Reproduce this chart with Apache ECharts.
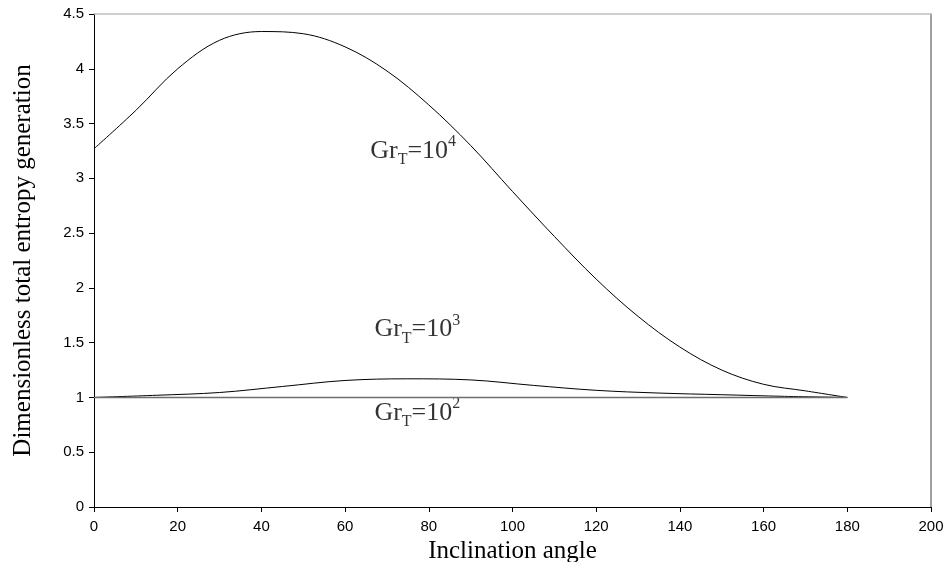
<!DOCTYPE html>
<html>
<head>
<meta charset="utf-8">
<script src="https://cdn.jsdelivr.net/npm/echarts@6/dist/echarts.min.js"></script>
<style>
  html, body { margin: 0; padding: 0; background: #fff; }
  #chart { width: 943px; height: 562px; }
</style>
</head>
<body>
<div id="chart"></div>
<script>
// values
var angles4 = [0, 10, 20, 30, 40, 50, 60, 70, 80, 90, 100, 110, 120, 130, 140, 150, 160, 170, 180];
var gr4 = [3.27, 3.62, 4.00, 4.26, 4.34, 4.32, 4.20, 3.98, 3.67, 3.30, 2.88, 2.47, 2.08, 1.74, 1.46, 1.25, 1.12, 1.06, 1.00];

var angles3 = [0, 15, 30, 45, 60, 75, 90, 105, 120, 135, 150, 165, 180];
var gr3 = [1.00, 1.02, 1.045, 1.10, 1.155, 1.17, 1.16, 1.11, 1.065, 1.04, 1.025, 1.01, 1.00];

var angles2 = [0, 180];
var gr2 = [1.00, 1.00];

// curve labels: x, y, exponent
var labelX = [66, 67, 67];
var labelY = [3.25, 1.62, 0.86];
var labelExp = ['4', '3', '2'];

var xTicks = { min: 0, max: 200, interval: 20 };
var yTicks = { min: 0, max: 4.5, interval: 0.5 };

function pairs(xs, ys) {
    var out = [];
    for (var i = 0; i < xs.length; i++) out.push([xs[i], ys[i]]);
    return out;
}

var labelData = [];
for (var i = 0; i < labelX.length; i++) {
    labelData.push({ value: [labelX[i], labelY[i]], exp: labelExp[i] });
}

var serif = '"Liberation Serif", "Times New Roman", serif';
var sans = '"Liberation Sans", Arial, sans-serif';

var myChart = echarts.init(document.getElementById('chart'));
myChart.setOption({
    animation: false,
    grid: { left: 94, right: 12, top: 14, bottom: 55, containLabel: false, outerBoundsMode: 'none' },
    xAxis: [{
        type: 'value', min: xTicks.min, max: xTicks.max, interval: xTicks.interval,
        name: 'Inclination angle', nameLocation: 'middle', nameGap: 28,
        nameTextStyle: { fontFamily: serif, fontSize: 25, color: '#000' },
        axisLine: { show: true, onZero: false, lineStyle: { color: '#000', width: 1 } },
        axisTick: { show: true, inside: false, length: 5, lineStyle: { color: '#000' } },
        axisLabel: { fontFamily: sans, fontSize: 15, color: '#000', margin: 12 },
        splitLine: { show: false }
    }, {
        type: 'value', position: 'top', min: xTicks.min, max: xTicks.max,
        axisLine: { show: true, onZero: false, lineStyle: { color: '#c0c0c0', width: 1.5 } },
        axisTick: { show: false }, axisLabel: { show: false }, splitLine: { show: false }
    }],
    yAxis: [{
        type: 'value', min: yTicks.min, max: yTicks.max, interval: yTicks.interval,
        name: 'Dimensionless total entropy generation', nameLocation: 'middle', nameGap: 58,
        nameTextStyle: { fontFamily: serif, fontSize: 25, color: '#000' },
        axisLine: { show: true, onZero: false, lineStyle: { color: '#000', width: 1 } },
        axisTick: { show: true, inside: false, length: 5, lineStyle: { color: '#000' } },
        axisLabel: { fontFamily: sans, fontSize: 15, color: '#000', margin: 10 },
        splitLine: { show: false }
    }, {
        type: 'value', position: 'right', min: yTicks.min, max: yTicks.max,
        axisLine: { show: true, onZero: false, lineStyle: { color: '#808080', width: 1.5 } },
        axisTick: { show: false }, axisLabel: { show: false }, splitLine: { show: false }
    }],
    series: [{
        name: 'GrT=10^4', type: 'line', smooth: 0.35, showSymbol: false,
        lineStyle: { color: '#000', width: 1 },
        data: pairs(angles4, gr4)
    }, {
        name: 'GrT=10^3', type: 'line', smooth: 0.35, showSymbol: false,
        lineStyle: { color: '#000', width: 1 },
        data: pairs(angles3, gr3)
    }, {
        name: 'GrT=10^2', type: 'line', showSymbol: false,
        lineStyle: { color: '#6e6e6e', width: 1.5 },
        data: pairs(angles2, gr2)
    }, {
        name: 'labels', type: 'scatter', symbolSize: 0, silent: true,
        data: labelData,
        label: {
            show: true, position: 'right', distance: 0,
            formatter: function (p) {
                return '{b|Gr}{s|T}{b|=10}{e|' + p.data.exp + '}';
            },
            rich: {
                b: { fontFamily: serif, fontSize: 26, color: '#000', lineHeight: 34, verticalAlign: 'middle' },
                s: { fontFamily: serif, fontSize: 16, color: '#000', lineHeight: 16, verticalAlign: 'bottom' },
                e: { fontFamily: serif, fontSize: 16, color: '#000', lineHeight: 16, verticalAlign: 'top' }
            }
        }
    }]
});
</script>
</body>
</html>
